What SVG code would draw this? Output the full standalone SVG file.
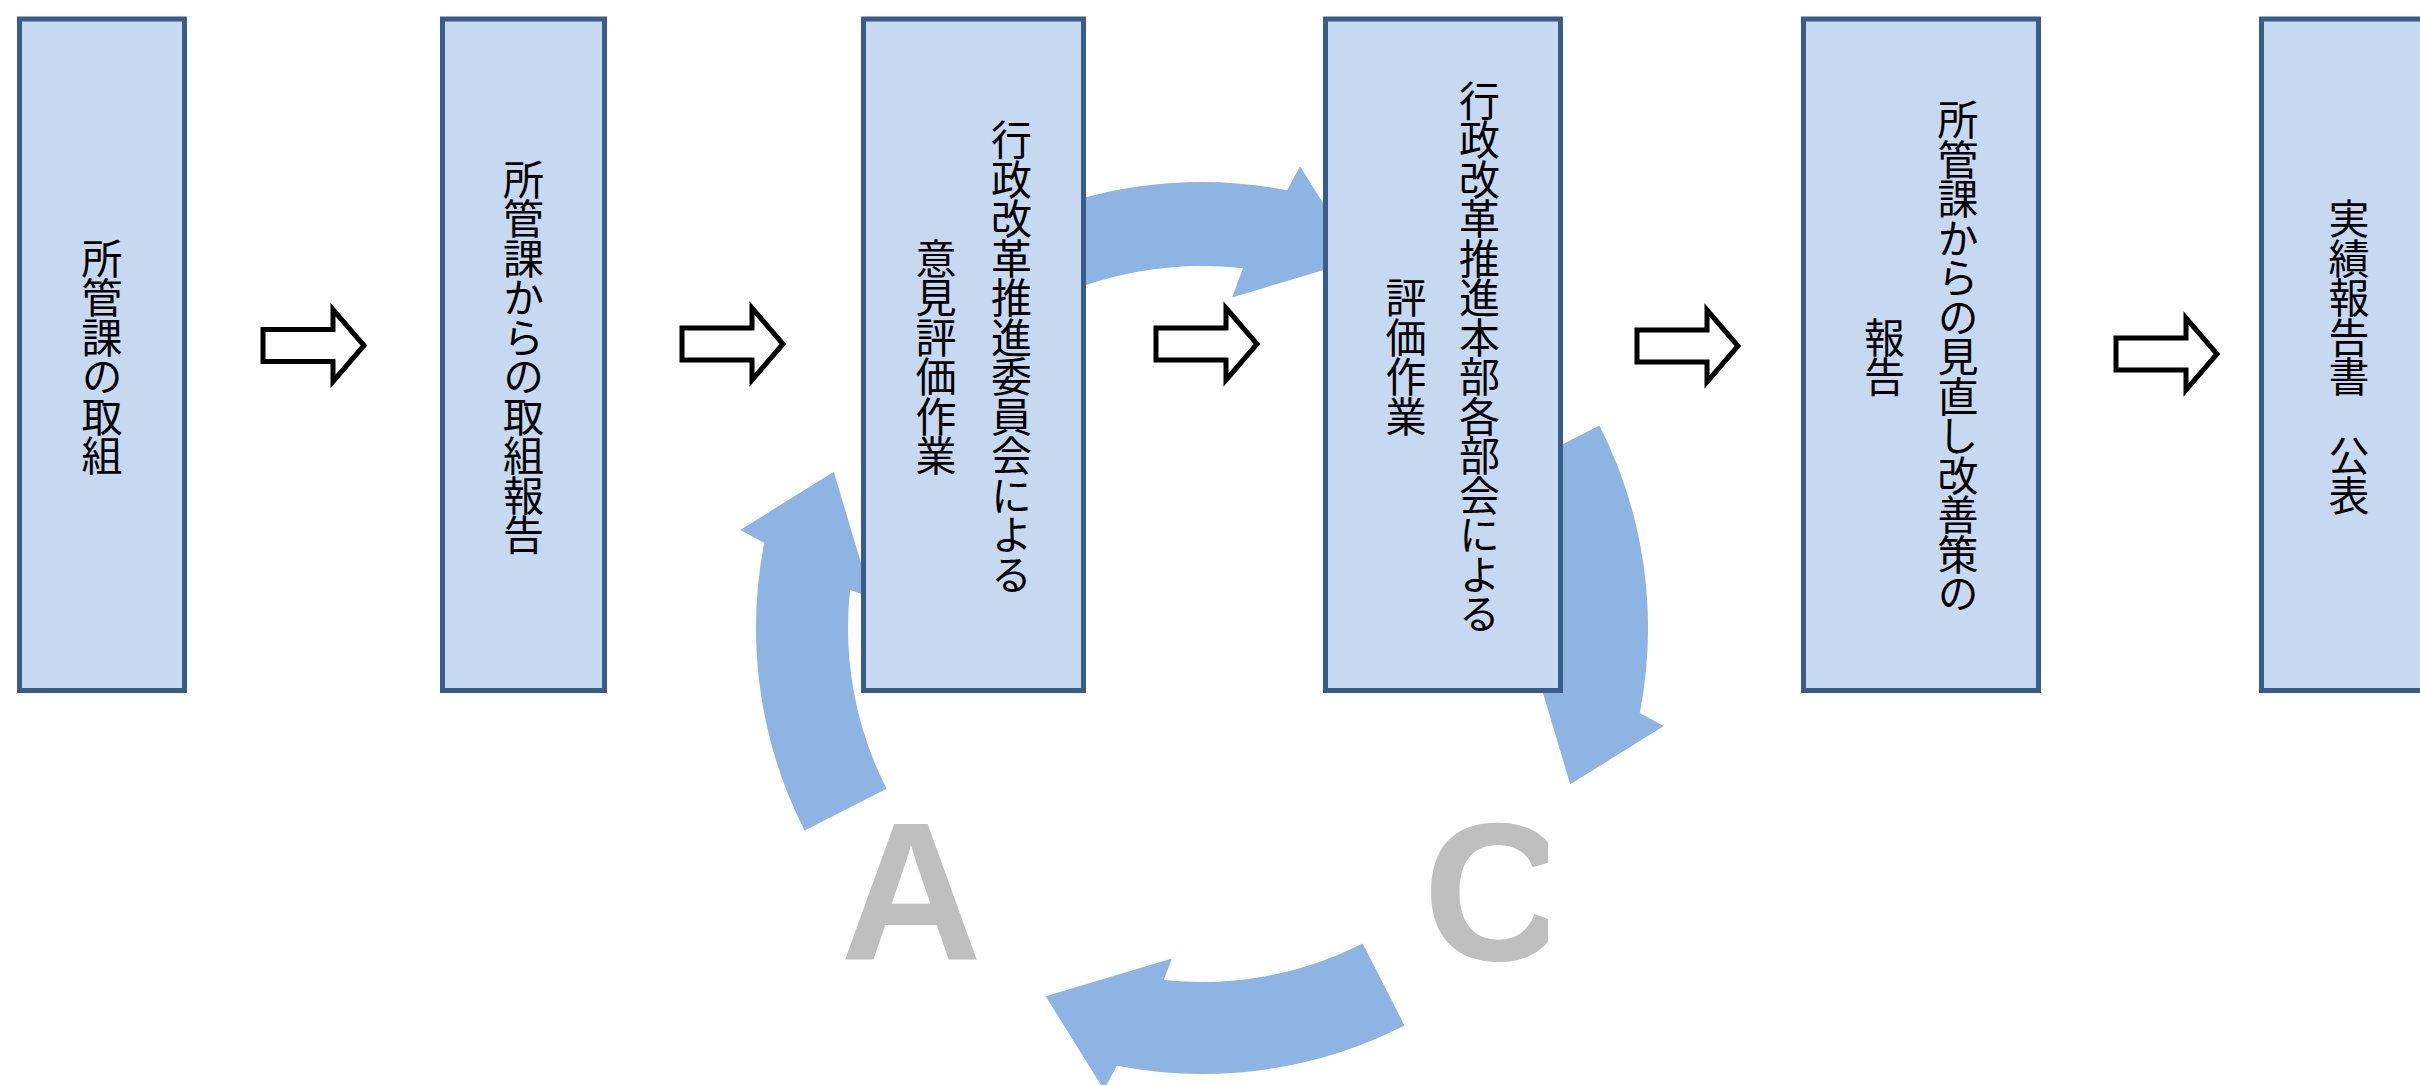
<svg xmlns="http://www.w3.org/2000/svg" xmlns:xlink="http://www.w3.org/1999/xlink" width="2420" height="1085" viewBox="0 0 2420 1085">
<style>
.box{fill:#C6D9F1;stroke:#385D8A;stroke-width:5}
.blk{fill:#FFFFFF;stroke:#000000;stroke-width:5;stroke-linejoin:miter;stroke-miterlimit:10}
.cyc{fill:#8EB4E3}
.vt{font-family:"Noto Sans CJK JP","Noto Sans CJK SC",sans-serif;font-size:41px;letter-spacing:-1.5px;fill:#000000;writing-mode:vertical-rl;text-anchor:middle}
.big{font-family:"Liberation Sans",Arial,sans-serif;font-weight:bold;font-size:196px;fill:#BFBFBF}
</style>
<defs>
<path id="blkArrow" class="blk" d="M0,-16 H70 V-36 L101,0 L70,36 V16 H0 Z"/>
<path id="cycArrow" class="cyc" d="M1599.4,425.5 A446,446 0 0 1 1639.8,713.1 L1663.7,726.1 L1570.2,784.3 L1532.6,658.1 L1553.9,666.2 A354,354 0 0 0 1517.4,467.3 Z"/>
<path id="cycArrowThin" class="cyc" d="M1599.4,425.5 A446,446 0 0 1 1639.8,713.1 L1663.7,726.1 L1570.2,784.3 L1532.6,658.1 L1561.7,669.0 A362,362 0 0 0 1524.5,463.7 Z"/>
<clipPath id="clipC"><rect x="1380" y="700" width="168" height="330"/></clipPath>
</defs>
<rect width="2420" height="1085" fill="#FFFFFF"/>
<g id="cycle">
<use xlink:href="#cycArrowThin" transform="rotate(270 1202 628)"/>
<use xlink:href="#cycArrow"/>
<use xlink:href="#cycArrow" transform="rotate(90 1202 628)"/>
<use xlink:href="#cycArrow" transform="rotate(180 1202 628)"/>
</g>
<g id="letters">
<text class="big" x="911" y="960" text-anchor="middle">A</text>
<text class="big" x="1423" y="960" clip-path="url(#clipC)">C</text>
</g>
<g id="node1">
<rect class="box" x="19.5" y="19" width="165" height="671.5"/>
<text class="vt" x="102" y="356">所管課の取組</text>
</g>
<g id="node2">
<rect class="box" x="442.5" y="19" width="162" height="671.5"/>
<text class="vt" x="523.5" y="356">所管課からの取組報告</text>
</g>
<g id="node3">
<rect class="box" x="863.5" y="19" width="220" height="671.5"/>
<text class="vt" x="1011.5" y="356">行政改革推進委員会による</text>
<text class="vt" x="936" y="356">意見評価作業</text>
</g>
<g id="node4">
<rect class="box" x="1325.5" y="19" width="235" height="671.5"/>
<text class="vt" x="1479.5" y="356">行政改革推進本部各部会による</text>
<text class="vt" x="1406" y="356">評価作業</text>
</g>
<g id="node5">
<rect class="box" x="1803.5" y="19" width="235" height="671.5"/>
<text class="vt" x="1958" y="356">所管課からの見直し改善策の</text>
<text class="vt" x="1884.5" y="356">報告</text>
</g>
<g id="node6">
<rect class="box" x="2261.5" y="19" width="180" height="671.5"/>
<text class="vt" x="2349" y="356">実績報告書　公表</text>
</g>
<g id="connectors">
<use xlink:href="#blkArrow" x="263" y="345.5"/>
<use xlink:href="#blkArrow" x="682" y="344"/>
<use xlink:href="#blkArrow" x="1156" y="344"/>
<use xlink:href="#blkArrow" x="1637" y="346"/>
<use xlink:href="#blkArrow" x="2116" y="354"/>
</g>
</svg>
